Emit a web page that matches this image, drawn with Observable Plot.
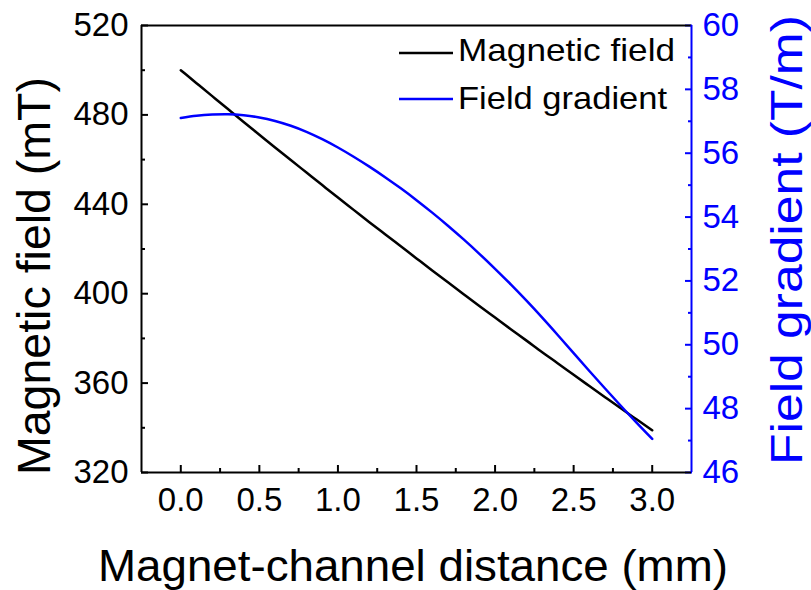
<!DOCTYPE html>
<html><head><meta charset="utf-8">
<script src="https://cdn.jsdelivr.net/npm/d3@7"></script>
<script src="https://cdn.jsdelivr.net/npm/@observablehq/plot@0.6"></script>
<style>html,body{margin:0;padding:0;background:#fff} svg{display:block}</style>
</head><body><div id="chart"></div>
<script>
const distance = [0.0,0.1,0.2,0.3,0.4,0.5,0.6,0.7,0.8,0.9,1.0,1.1,1.2,1.3,1.4,1.5,1.6,1.7,1.8,1.9,2.0,2.1,2.2,2.3,2.4,2.5,2.6,2.7,2.8,2.9,3.0];
const magneticField = [500.0,494.2,488.4,482.6,476.8,471.1,465.4,459.8,454.2,448.6,443.0,437.5,432.0,426.6,421.2,415.8,410.4,405.1,399.8,394.5,389.3,384.1,379.0,373.8,368.8,363.7,358.7,353.7,348.7,343.8,338.9];
const fieldGradient = [57.10,57.17,57.21,57.22,57.19,57.12,57.01,56.86,56.67,56.44,56.18,55.89,55.58,55.25,54.90,54.53,54.14,53.73,53.30,52.85,52.38,51.89,51.38,50.85,50.30,49.74,49.18,48.63,48.09,47.56,47.05];

const xDomain = [-0.25, 3.25];
const leftDomain = [320, 520];
const rightDomain = [46, 60];
const xTicks = [0, 0.5, 1, 1.5, 2, 2.5, 3];
const xMinorTicks = [0.25, 0.75, 1.25, 1.75, 2.25, 2.75];
const leftTicks = [320, 360, 400, 440, 480, 520];
const leftMinorTicks = [340, 380, 420, 460, 500];
const rightTicks = [46, 48, 50, 52, 54, 56, 58, 60];
const rightMinorTicks = [47, 49, 51, 53, 55, 57, 59];

const xTitle = "Magnet-channel distance (mm)";
const leftTitle = "Magnetic field (mT)";
const rightTitle = "Field gradient (T/m)";
const seriesNames = ["Magnetic field", "Field gradient"];
const seriesColors = ["#000000", "#0000ff"];

const FONT = "'Liberation Sans', Arial, Helvetica, sans-serif";
const BLUE = seriesColors[1];

// map right-axis values into left-axis units
const k = (leftDomain[1] - leftDomain[0]) / (rightDomain[1] - rightDomain[0]);
const gToY = g => leftDomain[0] + (g - rightDomain[0]) * k;
const yToG = y => rightDomain[0] + (y - leftDomain[0]) / k;

const table = distance.map((d, i) => ({d, field: magneticField[i], grad: fieldGradient[i]}));

const svg = Plot.plot({
  width: 811, height: 590,
  marginLeft: 141, marginRight: 120, marginTop: 25, marginBottom: 118,
  x: {domain: xDomain},
  y: {domain: leftDomain},
  style: {fontFamily: FONT, background: "white", color: "black"},
  marks: [
    Plot.line(table, {x: "d", y: "field", stroke: seriesColors[0], strokeWidth: 2.5, curve: "natural"}),
    Plot.line(table, {x: "d", y: r => gToY(r.grad), stroke: BLUE, strokeWidth: 2.5, curve: "natural"}),
    // x axis
    Plot.axisX({ticks: xTicks, tickSize: -7, strokeWidth: 2, fill: "none", label: null}),
    Plot.axisX({ticks: xMinorTicks, tickSize: -4, strokeWidth: 2, fill: "none", label: null}),
    Plot.axisX({ticks: xTicks, tickSize: 0, tickPadding: 15, fontSize: 33, fill: "black", tickFormat: d3.format(".1f"), label: null}),
    // left axis
    Plot.axisY({ticks: leftTicks, tickSize: -7, strokeWidth: 2, fill: "none", label: null}),
    Plot.axisY({ticks: leftMinorTicks, tickSize: -4, strokeWidth: 2, fill: "none", label: null}),
    Plot.axisY({ticks: leftTicks, tickSize: 0, tickPadding: 13, fontSize: 33, fill: "black", label: null}),
    // right axis
    Plot.axisY({anchor: "right", ticks: rightTicks.map(gToY), tickSize: -7, strokeWidth: 2, stroke: BLUE, fill: "none", label: null}),
    Plot.axisY({anchor: "right", ticks: rightMinorTicks.map(gToY), tickSize: -4, strokeWidth: 2, stroke: BLUE, fill: "none", label: null}),
    Plot.axisY({anchor: "right", ticks: rightTicks.map(gToY), tickSize: 0, tickPadding: 11, fontSize: 33, fill: BLUE, tickFormat: v => String(Math.round(yToG(v))), label: null}),
    // frame
    Plot.ruleY([leftDomain[0]], {stroke: "black", strokeWidth: 2}),
    Plot.ruleY([leftDomain[1]], {stroke: "black", strokeWidth: 2}),
    Plot.ruleX([xDomain[0]], {stroke: "black", strokeWidth: 2}),
    Plot.ruleX([xDomain[1]], {stroke: BLUE, strokeWidth: 2})
  ]
});

const s = d3.select(svg);
function addText(attrs, str) {
  const t = s.append("text")
    .attr("text-anchor", "start")
    .attr("font-family", FONT)
    .attr("lengthAdjust", "spacingAndGlyphs");
  Object.entries(attrs).forEach(([a, v]) => t.attr(a, v));
  t.text(str);
  return t;
}
// axis titles
addText({x: 98, y: 581, "font-size": 45, fill: "black", textLength: 630}, xTitle);
addText({transform: "translate(50,475) rotate(-90)", "font-size": 47, fill: "black", textLength: 398}, leftTitle);
addText({transform: "translate(802,465) rotate(-90)", "font-size": 44, fill: BLUE, textLength: 450}, rightTitle);
// legend
const legendRows = [{y: 53, base: 61, len: 217}, {y: 99, base: 109, len: 209}];
legendRows.forEach((r, i) => {
  s.append("line").attr("x1", 399).attr("x2", 453).attr("y1", r.y).attr("y2", r.y)
    .attr("stroke", seriesColors[i]).attr("stroke-width", 2.5);
  addText({x: 458, y: r.base, "font-size": 32, fill: "black", textLength: r.len}, seriesNames[i]);
});

document.getElementById("chart").appendChild(svg);
</script>
</body></html>
